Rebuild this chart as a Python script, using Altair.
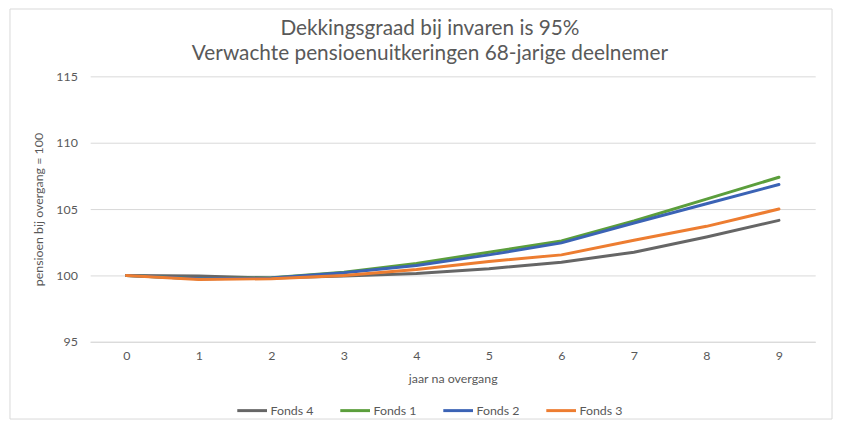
import altair as alt
import pandas as pd

years = [0, 1, 2, 3, 4, 5, 6, 7, 8, 9]
fonds_4 = [100.0, 99.95, 99.8, 99.95, 100.15, 100.5, 101.0, 101.75, 102.9, 104.15]
fonds_1 = [100.0, 99.75, 99.82, 100.25, 100.9, 101.75, 102.6, 104.1, 105.75, 107.4]
fonds_2 = [100.0, 99.75, 99.8, 100.2, 100.75, 101.55, 102.45, 103.95, 105.4, 106.85]
fonds_3 = [100.0, 99.7, 99.75, 100.0, 100.45, 101.05, 101.55, 102.65, 103.7, 105.0]

series_names = ["Fonds 4", "Fonds 1", "Fonds 2", "Fonds 3"]
series_values = [fonds_4, fonds_1, fonds_2, fonds_3]
series_colors = ["#666666", "#5B9E3C", "#3B63B5", "#ED7D31"]
y_ticks = [95, 100, 105, 110, 115]

rows = []
for order, (name, vals) in enumerate(zip(series_names, series_values)):
    for yr, v in zip(years, vals):
        rows.append({"jaar": yr, "waarde": v, "fonds": name, "volgorde": order})
df = pd.DataFrame(rows)

FONT = "Lato"
GREY = "#595959"

lines = alt.Chart(df).mark_line(strokeWidth=3, strokeCap="round").encode(
    x=alt.X("jaar:O", title="jaar na overgang",
            axis=alt.Axis(labelAngle=0, ticks=False, domain=True, domainColor="#d9d9d9",
                          labelPadding=8, titlePadding=11)),
    y=alt.Y("waarde:Q", title="pensioen bij overgang = 100",
            scale=alt.Scale(domain=[95, 115], nice=False, zero=False),
            axis=alt.Axis(values=y_ticks, ticks=False, domain=False, labelPadding=13,
                          grid=True, gridColor="#d9d9d9", titlePadding=10)),
    color=alt.Color("fonds:N", sort=series_names,
                    scale=alt.Scale(domain=series_names, range=series_colors),
                    legend=alt.Legend(title=None, orient="none", direction="horizontal",
                                      legendX=147, legendY=321, symbolType="stroke",
                                      symbolSize=900, symbolStrokeWidth=3,
                                      labelOffset=2, columnPadding=20)),
    order=alt.Order("volgorde:Q"),
    detail="fonds:N",
)

frame = alt.Chart(pd.DataFrame({"a": [0]})).mark_rect(
    fill=None, stroke="#d9d9d9", strokeWidth=1
).encode(
    x=alt.value(-81), x2=alt.value(749), y=alt.value(-68), y2=alt.value(346)
)

chart = alt.layer(frame, lines).properties(
    width=732,
    height=268,
    padding={"left": 83, "top": 67, "right": 21, "bottom": 81},
    autosize="none",
    title=alt.Title(
        ["Dekkingsgraad bij invaren is 95%", "Verwachte pensioenuitkeringen  68-jarige deelnemer"],
        font=FONT, fontSize=21, fontWeight="normal", color=GREY,
        anchor="middle", dx=-23, offset=-56, lineHeight=25,
    ),
).configure_view(stroke=None).configure_axis(
    labelFont=FONT, labelFontSize=12.5, labelColor=GREY,
    titleFont=FONT, titleFontSize=12.5, titleColor=GREY, titleFontWeight="normal",
).configure_legend(
    labelFont=FONT, labelFontSize=12.5, labelColor=GREY,
)

chart.save("out.html", embed_options={"renderer": "svg", "actions": False})
